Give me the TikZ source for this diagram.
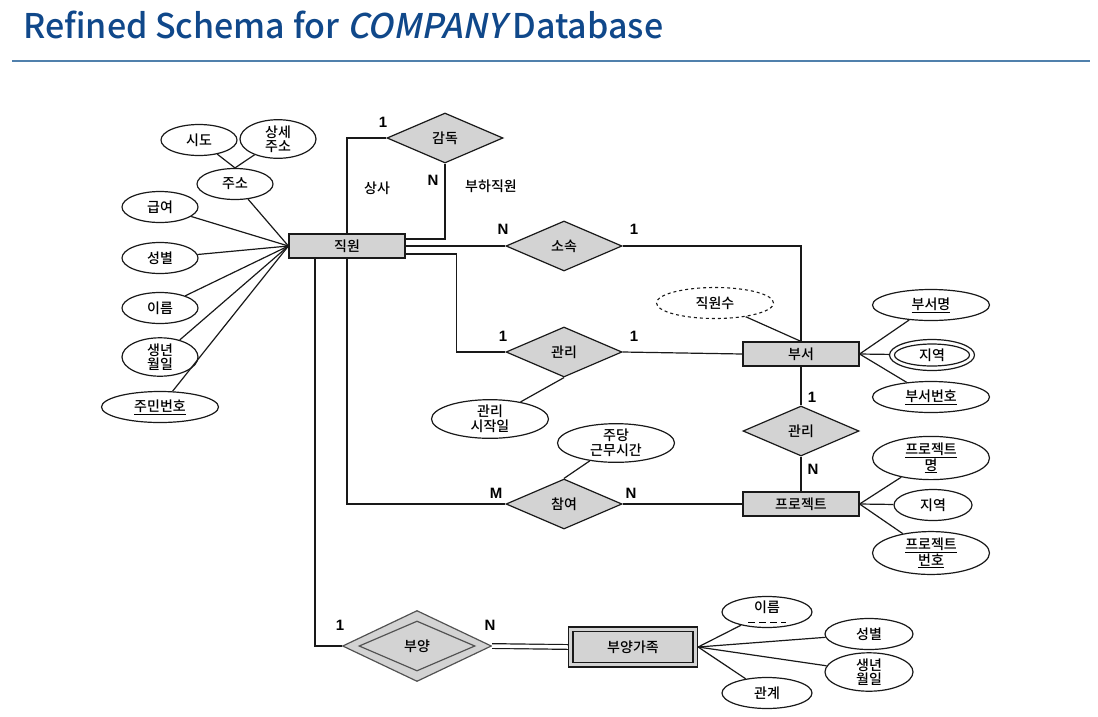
\documentclass[tikz,border=0pt]{standalone}
\usepackage{fontspec}
\setmainfont{Noto Sans CJK KR}
\newfontfamily\titlefont{Noto Sans CJK KR Medium}
\newfontfamily\titleit{Noto Sans CJK KR Medium}[FakeSlant=0.2]
\newfontfamily\bodyfont{Noto Sans CJK KR Medium}
\newfontfamily\numfont{Liberation Sans}
\usetikzlibrary{shapes.geometric,calc}
\definecolor{titleblue}{RGB}{16,72,138}
\definecolor{rulecol}{RGB}{80,128,172}
\definecolor{boxgray}{RGB}{211,211,211}
\definecolor{edgecol}{RGB}{25,25,25}
\begin{document}
\begin{tikzpicture}[x=1pt,y=-1pt,
  every node/.style={font=\bodyfont\fontsize{14}{15}\selectfont, text=black},
  conn/.style={draw=edgecol, line width=1.2pt},
  entity/.style={draw=edgecol, line width=1.2pt, fill=boxgray, rectangle, minimum width=116pt, minimum height=24pt, inner sep=0pt},
  relat/.style={draw=edgecol, line width=1.2pt, fill=boxgray, diamond, aspect=2.3, minimum width=116pt, minimum height=50pt, inner sep=0pt},
  attr/.style={draw=edgecol, line width=1.2pt, fill=white, ellipse, minimum width=76pt, minimum height=31pt, inner sep=0pt, align=center, font=\bodyfont\fontsize{14}{14.5}\selectfont},
  wattr/.style={attr, minimum width=117pt},
  card/.style={font=\numfont\bfseries\fontsize{15}{16}\selectfont, inner sep=0pt},
  role/.style={font=\bodyfont\fontsize{14}{15}\selectfont, inner sep=0pt}
]
\useasboundingbox (0,0) rectangle (1098,716);
% title
\node[anchor=base west, inner sep=0pt, text=titleblue, font=\titlefont\fontsize{34}{38}\selectfont] (title) at (23,38) {Refined Schema for {\titleit COMPANY}\,Database};
\coordinate (ruleL) at (12,61);
\coordinate (ruleR) at (1090,61);
\draw[rulecol, line width=1.4pt] (ruleL) -- (ruleR);

% entities
\node[entity] (emp) at (347,246) {직원};
\node[entity] (dept) at (801,354) {부서};
\node[entity] (proj) at (801,504) {프로젝트};
\node[draw=edgecol, line width=1.2pt, fill=boxgray, minimum width=129pt, minimum height=40pt, inner sep=0pt] (depo) at (633,647) {};
\node[draw=edgecol, line width=1.2pt, fill=boxgray, minimum width=120pt, minimum height=31pt, inner sep=0pt] (dep) at (633,647) {부양가족};

% relationships
\node[relat] (sup) at (445,138) {감독};
\node[relat] (works) at (564,246) {소속};
\node[relat] (mng) at (564,352) {관리};
\node[relat] (ctrl) at (801,431) {관리};
\node[relat] (wrk) at (564,504) {참여};
\node[relat, minimum width=149pt, minimum height=71pt, draw=edgecol!75] (depso) at (417,646) {};
\node[relat, minimum width=116pt, minimum height=50pt, draw=edgecol!75] (depsi) at (417,646) {부양};

% employee attributes
\node[attr] (sido) at (199,140) {시도};
\node[attr] (sangse) at (278,139) {상세\\주소};
\node[attr] (addr) at (235,184) {주소};
\node[attr] (sal) at (160,207) {급여};
\node[attr] (sex) at (160,258) {성별};
\node[attr] (name) at (160,308) {이름};
\node[attr] (bdate) at (160,357) {생년\\월일};
\node[wattr] (ssn) at (160,407) {\underline{주민번호}};

\draw[conn] (sido) -- (addr.north);
\draw[conn] (sangse) -- (addr.north);
\foreach \a in {addr,sal,sex,name,bdate,ssn} \draw[conn] (\a) -- (emp.west);

% department attributes
\node[wattr] (dname) at (931,305) {\underline{부서명}};
\node[attr, minimum width=85pt, minimum height=31pt] (locO) at (932,355) {};
\node[attr, minimum width=75pt, minimum height=22pt] (locI) at (932,355) {지역};
\node[wattr] (dnum) at (931,397) {\underline{부서번호}};
\draw[conn] (dept.east) -- (dname);
\draw[conn] (dept.east) -- (locO);
\draw[conn] (dept.east) -- (dnum);
\node[wattr, dashed, line width=1.1pt] (nemp) at (715,303) {직원수};
\draw[conn] (nemp) -- (dept.north);

% project attributes
\node[wattr] (pname) at (931,458) {\underline{프로젝트}\\\underline{명}};
\node[attr, minimum width=78pt] (ploc) at (933,505) {지역};
\node[wattr] (pnum) at (931,553) {\underline{프로젝트}\\\underline{번호}};
\draw[conn] (proj.east) -- (pname);
\draw[conn] (proj.east) -- (ploc);
\draw[conn] (proj.east) -- (pnum);

% relationship attributes
\node[wattr] (mstart) at (490,419) {관리\\시작일};
\draw[conn] (mng.south) -- (mstart);
\node[wattr] (hours) at (616,443) {주당\\근무시간};
\draw[conn] (wrk.north) -- (hours);

% dependent attributes
\node[attr, minimum width=90pt] (dname2) at (767,612) {\rule{0pt}{1pt}이름\\[-5pt]\tikz[baseline]\draw[dashed, line width=1.2pt, dash pattern=on 7pt off 4pt] (0,0)--(38pt,0);};
\node[attr, minimum width=88pt] (dsex) at (869,634) {성별};
\node[attr, minimum width=88pt] (dbd) at (869,672) {생년\\월일};
\node[attr, minimum width=90pt] (drel) at (767,693) {관계};
\foreach \a in {dname2,dsex,dbd,drel} \draw[conn] (depo.east) -- (\a);

% connectors
\draw[conn] (sup.west) -| (emp.north);
\draw[conn] (sup.south) |- ([yshift=7pt]emp.east);
\draw[conn] (emp.east) -- (works.west);
\draw[conn] (works.east) -| (dept.north);
\draw[conn] ([yshift=-8pt]emp.east) -- ++(51,0) |- (mng.west);
\draw[conn] (mng.east) -- (dept.west);
\draw[conn] (dept.south) -- (ctrl.north);
\draw[conn] (ctrl.south) -- (proj.north);
\draw[conn] (emp.south) |- (wrk.west);
\draw[conn] (wrk.east) -- (proj.west);
\draw[conn] ([xshift=-32pt]emp.south) |- (depso.west);
\draw[draw=edgecol, line width=1.2pt, double=white, double distance=3.5pt] (depso.east) -- (depo.west);

% cardinalities and roles
\node[card] (c1) at (383,122) {1};
\node[card] (c2) at (433,180) {N};
\node[role] (r1) at (377,188) {상사};
\node[role] (r2) at (491,186) {부하직원};
\node[card] (c3) at (503,229) {N};
\node[card] (c4) at (634,229) {1};
\node[card] (c5) at (503,336) {1};
\node[card] (c6) at (634,336) {1};
\node[card] (c7) at (812,397) {1};
\node[card] (c8) at (813,469) {N};
\node[card] (c9) at (496,493) {M};
\node[card] (c10) at (631,493) {N};
\node[card] (c11) at (340,625) {1};
\node[card] (c12) at (490,625) {N};
\end{tikzpicture}
\end{document}
